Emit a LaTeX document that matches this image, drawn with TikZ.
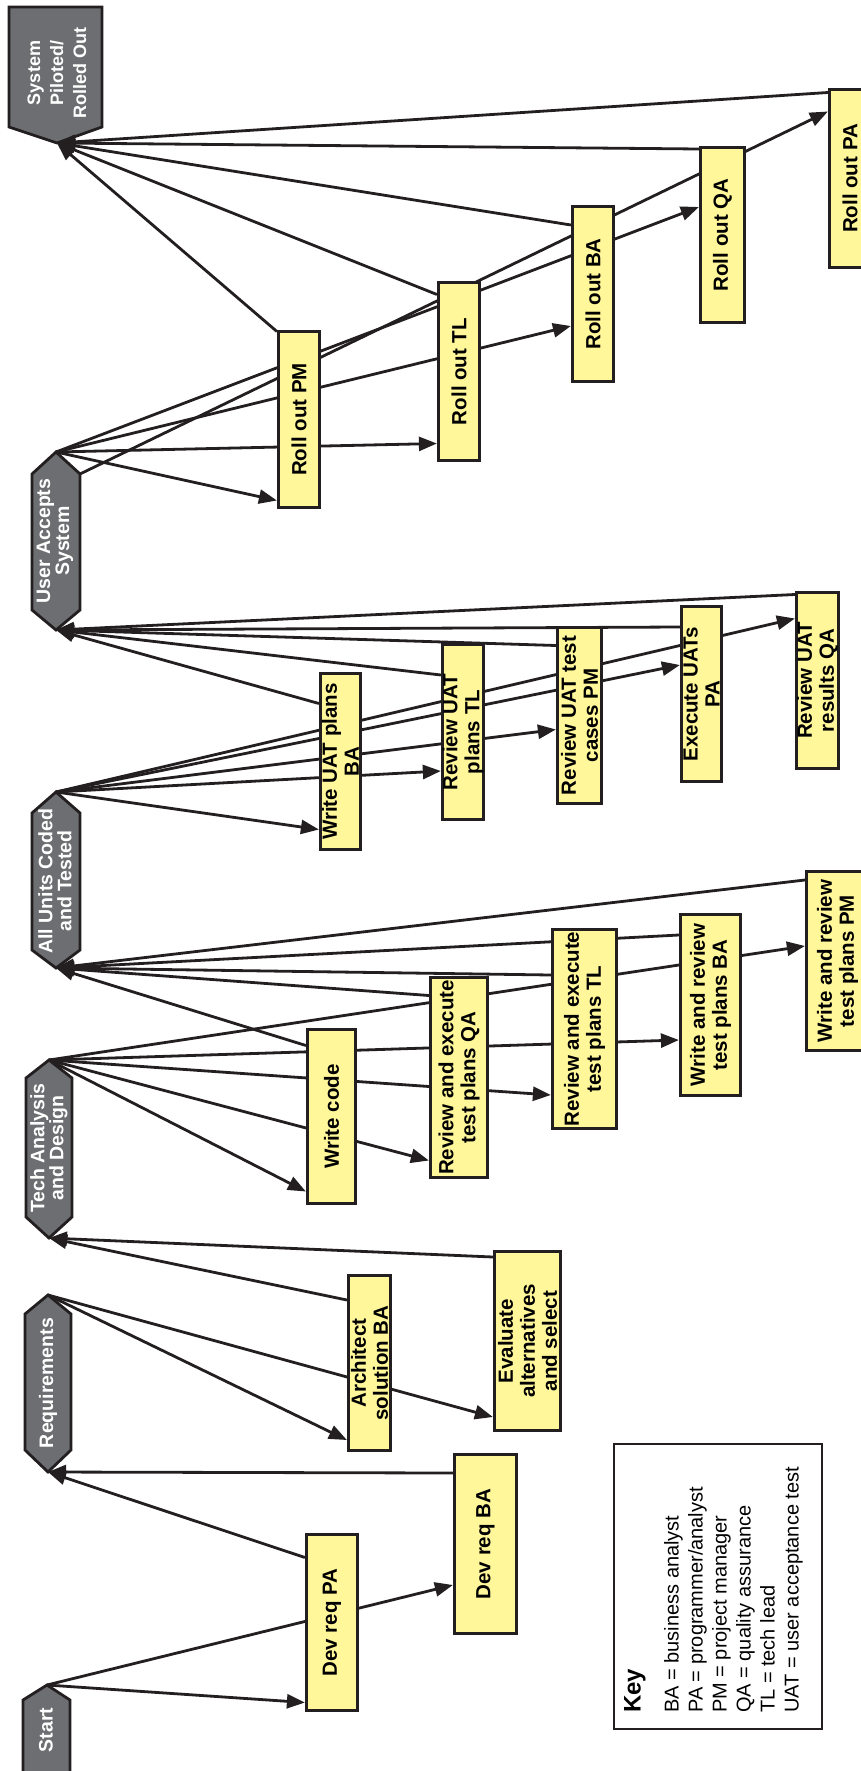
\documentclass[tikz,border=0pt]{standalone}
\usepackage{fontspec}
\setmainfont{Liberation Sans}
\usetikzlibrary{arrows.meta,backgrounds}

\definecolor{ink}{HTML}{231F20}
\definecolor{taskyellow}{HTML}{FFF799}
\definecolor{milegray}{HTML}{6D6E71}

\tikzset{
  task/.style={draw=ink, fill=taskyellow, line width=3.2pt, rotate=90, align=center,
    inner sep=0pt, font=\fontsize{20.5}{22}\selectfont\bfseries},
  mile/.style={draw=ink, fill=milegray, line width=2.8pt},
  miletext/.style={text=white, rotate=90, align=center, inner sep=0pt,
    font=\fontsize{19.5}{19}\selectfont\bfseries},
  flow/.style={draw=ink, line width=2.8pt, -{Triangle[length=18pt,width=14pt]}},
  keybox/.style={draw=ink, line width=2pt, fill=white},
  keytext/.style={rotate=90, align=left, inner sep=0pt, font=\fontsize{20}{24}\selectfont},
}

\begin{document}
\begin{tikzpicture}[x=1pt, y=-1pt]
\useasboundingbox (0,0) rectangle (861,1771);

% tasks
\node[task, minimum width=176pt, minimum height=51pt] (drpa) at (332,1622.5) {Dev req PA};
\node[task, minimum width=179pt, minimum height=62pt] (drba) at (485.5,1544) {Dev req BA};

\node[task, minimum width=175pt, minimum height=42pt] (asba) at (369.5,1363) {Architect\\solution BA};
\node[task, minimum width=179pt, minimum height=66pt] (eval) at (527.5,1341) {Evaluate\\alternatives\\and select};

\node[task, minimum width=174pt, minimum height=48pt] (wc) at (331.5,1116.5) {Write code};
\node[task, minimum width=200pt, minimum height=57pt] (retq) at (459,1077.5) {Review and execute\\test plans QA};
\node[task, minimum width=199pt, minimum height=64pt] (rett) at (584.5,1029) {Review and execute\\test plans TL};
\node[task, minimum width=181pt, minimum height=60pt] (wrtb) at (710.5,1005) {Write and review\\test plans BA};
\node[task, minimum width=179pt, minimum height=62pt] (wrtp) at (837.5,961) {Write and review\\test plans PM};

\node[task, minimum width=176pt, minimum height=40pt] (wuat) at (340.5,761.5) {Write UAT plans\\BA};
\node[task, minimum width=175pt, minimum height=41pt] (ruat) at (463,732) {Review UAT\\plans TL};
\node[task, minimum width=176pt, minimum height=44pt] (ruatc) at (579.5,715.5) {Review UAT test\\cases PM};
\node[task, minimum width=175pt, minimum height=40pt] (exu) at (701.5,694) {Execute UATs\\PA};
\node[task, minimum width=176pt, minimum height=42pt] (ruatr) at (817.5,680.5) {Review UAT\\results QA};

\node[task, minimum width=176pt, minimum height=41pt] (ropm) at (299,419.5) {Roll out PM};
\node[task, minimum width=178pt, minimum height=41pt] (rotl) at (459,371.5) {Roll out TL};
\node[task, minimum width=175pt, minimum height=41pt] (roba) at (593,294) {Roll out BA};
\node[task, minimum width=175pt, minimum height=44pt] (roqa) at (722.5,235) {Roll out QA};
\node[task, minimum width=178pt, minimum height=41pt] (ropa) at (850,178.5) {Roll out PA};

% key
\node[keybox, minimum width=208pt, minimum height=285pt] (key) at (718,1586.5) {};
\node[keytext, anchor=north west] (keytext) at ([xshift=11pt,yshift=17pt]key.south west)
  {{\fontsize{24}{24}\selectfont\bfseries Key}\\[14pt]
   BA = business analyst\\
   PA = programmer/analyst\\
   PM = project manager\\
   QA = quality assurance\\
   TL = tech lead\\
   UAT = user acceptance test};

\begin{pgfonlayer}{background}
% milestones
\draw[mile] (9,7) -- (102,7) -- (102,127) -- (57,143) -- (9,127) -- cycle;
\node[miletext, font=\fontsize{18}{23}\selectfont\bfseries] (systext) at (57,73) {System\\Piloted/\\Rolled Out};
\coordinate (sys-bot) at (57,143);

\draw[mile] (32,474) -- (56,452) -- (80,474) -- (80,610) -- (56,630) -- (32,610) -- cycle;
\node[miletext] (uatext) at (55,541) {User Accepts\\System};
\coordinate (ua-top) at (56,452);
\coordinate (ua-side) at (80,474);
\coordinate (ua-bot) at (56,630);

\draw[mile] (32,813) -- (56,792) -- (80,813) -- (80,950) -- (56,968) -- (32,950) -- cycle;
\node[miletext] (autext) at (55,881) {All Units Coded\\and Tested};
\coordinate (au-top) at (56,792);
\coordinate (au-bot) at (56,968);

\draw[mile] (26,1078) -- (49,1060) -- (72,1078) -- (72,1217) -- (49,1238) -- (26,1217) -- cycle;
\node[miletext] (tadtext) at (49,1148) {Tech Analysis\\and Design};
\coordinate (tad-top) at (49,1060);
\coordinate (tad-bot) at (49,1238);

\draw[mile] (25,1314) -- (48,1295) -- (71,1314) -- (71,1450) -- (48,1472) -- (25,1450) -- cycle;
\node[miletext] (reqtext) at (48,1383) {Requirements};
\coordinate (req-top) at (48,1295);
\coordinate (req-bot) at (48,1472);

\draw[mile] (23,1790) -- (23,1700) -- (47,1685) -- (70,1700) -- (70,1790);
\node[miletext] (sttext) at (46,1730) {Start};
\coordinate (st-top) at (47,1685);

% start
\draw[flow] (st-top) -- ([yshift=-80pt]drpa.north);
\draw[flow] (st-top) -- ([yshift=-41pt]drba.north);
\draw[flow] ([yshift=65pt]drpa.north) -- (req-bot);
\draw[flow] ([yshift=71pt]drba.north) -- (req-bot);
% requirements
\draw[flow] (req-top) -- ([yshift=-77pt]asba.north);
\draw[flow] (req-top) -- ([yshift=-76pt]eval.north);
\draw[flow] ([yshift=63pt]asba.north) -- (tad-bot);
\draw[flow] ([yshift=84pt]eval.north) -- (tad-bot);
% tech analysis
\draw[flow] (tad-top) -- ([yshift=-75pt]wc.north);
\draw[flow] (tad-top) -- ([yshift=-83pt]retq.north);
\draw[flow] (tad-top) -- ([yshift=-66pt]rett.north);
\draw[flow] (tad-top) -- ([yshift=-35pt]wrtb.north);
\draw[flow] (tad-top) -- ([yshift=15pt]wrtp.north);
\draw[flow] ([yshift=71pt]wc.north) -- (au-bot);
\draw[flow] ([yshift=82pt]retq.north) -- (au-bot);
\draw[flow] ([yshift=54pt]rett.north) -- (au-bot);
\draw[flow] ([yshift=70pt]wrtb.north) -- (au-bot);
\draw[flow] ([yshift=81pt]wrtp.north) -- (au-bot);
% all units
\draw[flow] (au-top) -- ([yshift=-68pt]wuat.north);
\draw[flow] (au-top) -- ([yshift=-39pt]ruat.north);
\draw[flow] (au-top) -- ([yshift=-14pt]ruatc.north);
\draw[flow] (au-top) -- ([yshift=29pt]exu.north);
\draw[flow] (au-top) -- ([yshift=62pt]ruatr.north);
\draw[flow] ([yshift=58pt]wuat.north) -- (ua-bot);
\draw[flow] ([yshift=57pt]ruat.north) -- (ua-bot);
\draw[flow] ([yshift=70pt]ruatc.north) -- (ua-bot);
\draw[flow] ([yshift=67pt]exu.north) -- (ua-bot);
\draw[flow] ([yshift=86pt]ruatr.north) -- (ua-bot);
% user accepts
\draw[flow] (ua-top) -- ([yshift=-81pt]ropm.north);
\draw[flow] (ua-top) -- ([yshift=-72pt]rotl.north);
\draw[flow] (ua-top) -- ([yshift=-32pt]roba.north);
\draw[flow] (ua-top) -- ([yshift=28pt]roqa.north);
\draw[flow] (ua-side) -- ([yshift=67pt]ropa.north);
\draw[flow] ([yshift=88pt]ropm.north) -- (sys-bot);
\draw[flow] ([yshift=77pt]rotl.north) -- (sys-bot);
\draw[flow] ([yshift=69pt]roba.north) -- (sys-bot);
\draw[flow] ([yshift=86pt]roqa.north) -- (sys-bot);
\draw[flow] ([yshift=86pt]ropa.north) -- (sys-bot);
\end{pgfonlayer}
\end{tikzpicture}
\end{document}
